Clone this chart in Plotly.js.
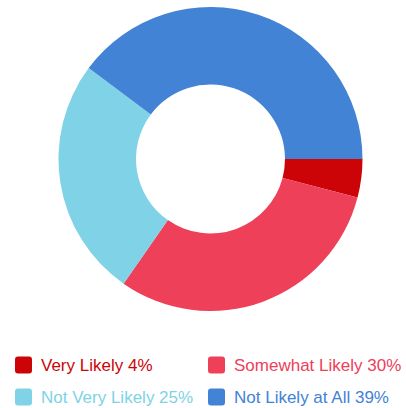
<!DOCTYPE html>
<html>
<head>
<meta charset="utf-8">
<script src="https://cdn.plot.ly/plotly-3.0.1.min.js"></script>
<style>html,body{margin:0;padding:0;background:#fff;}#chart{width:406px;height:408px;}</style>
</head>
<body>
<div id="chart"></div>
<script>
const categories = ["Very Likely", "Somewhat Likely", "Not Very Likely", "Not Likely at All"];
const values = [4, 30, 25, 39];
const colors = ["#cc0408", "#ee4059", "#80d2e6", "#4283d5"];

const W = 406, H = 408;
const px = x => x / W;
const py = y => 1 - y / H;

// legend slots (pixel positions of square left edge and row centre)
const slots = [[15, 365], [208, 365], [15, 397], [208, 397]];
const sq = 17, rad = 3;

function roundRect(x0p, yc) {
  const x0 = px(x0p), x1 = px(x0p + sq);
  const y0 = py(yc + sq / 2), y1 = py(yc - sq / 2);
  const rx = rad / W, ry = rad / H;
  return `M${x0 + rx},${y0} L${x1 - rx},${y0} Q${x1},${y0} ${x1},${y0 + ry} L${x1},${y1 - ry} Q${x1},${y1} ${x1 - rx},${y1} L${x0 + rx},${y1} Q${x0},${y1} ${x0},${y1 - ry} L${x0},${y0 + ry} Q${x0},${y0} ${x0 + rx},${y0} Z`;
}

const shapes = categories.map((c, i) => ({
  type: "path", xref: "paper", yref: "paper",
  path: roundRect(slots[i][0], slots[i][1]),
  fillcolor: colors[i], line: {width: 0}
}));
const annotations = categories.map((c, i) => ({
  xref: "paper", yref: "paper",
  x: px(slots[i][0] + sq + 7), y: py(slots[i][1]),
  xanchor: "left", yanchor: "middle", showarrow: false,
  text: c + " " + values[i] + "%",
  font: {family: "Liberation Sans, Arial, sans-serif", size: 17, color: colors[i]}
}));

const cx = 210.5, cy = 159, r = 152;
const trace = {
  type: "pie",
  labels: categories,
  values: values,
  marker: {colors: colors, line: {width: 0}},
  hole: 0.49,
  sort: false,
  direction: "clockwise",
  rotation: 90,
  textinfo: "none",
  hoverinfo: "label+value",
  domain: {x: [px(cx - r), px(cx + r)], y: [py(cy + r), py(cy - r)]},
  showlegend: false
};

Plotly.newPlot("chart", [trace], {
  width: W, height: H,
  margin: {l: 0, r: 0, t: 0, b: 0},
  paper_bgcolor: "#fff",
  showlegend: false,
  shapes: shapes,
  annotations: annotations
}, {displayModeBar: false, staticPlot: true});
</script>
</body>
</html>
